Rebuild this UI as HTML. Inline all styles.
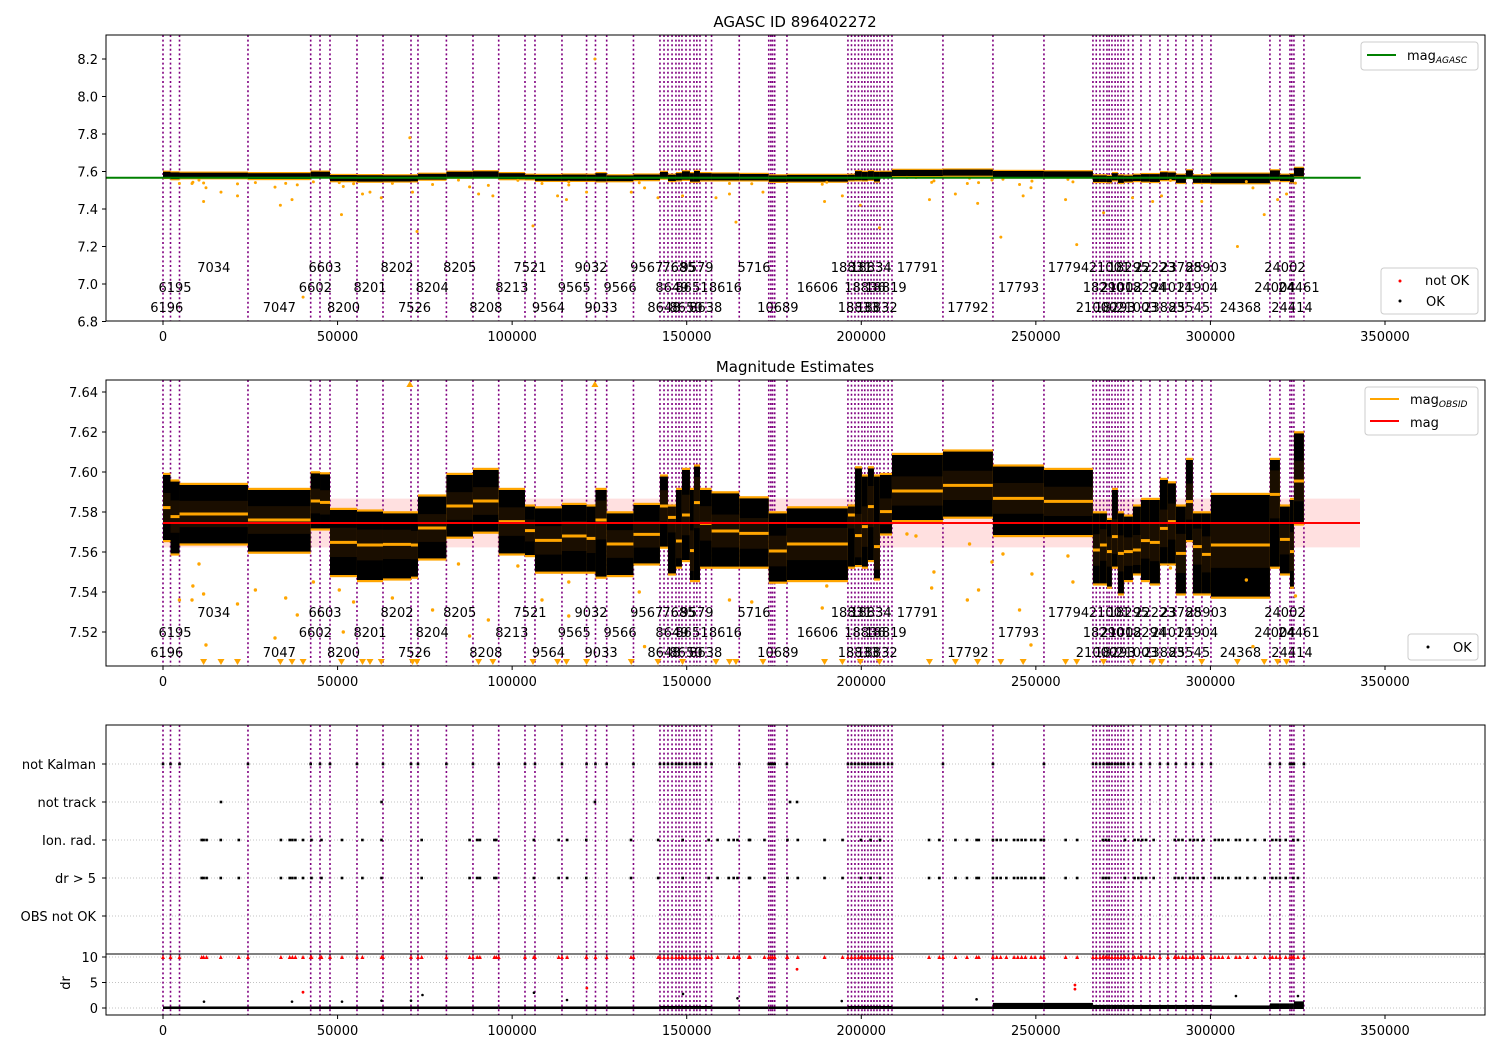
<!DOCTYPE html>
<html><head><meta charset="utf-8">
<style>
html,body{margin:0;padding:0;background:#fff;}
svg text{font-family:"DejaVu Sans","Liberation Sans",sans-serif;}
</style></head>
<body>
<svg id="chart" width="1500" height="1050" viewBox="0 0 1500 1050" xmlns="http://www.w3.org/2000/svg"></svg>
<script>
// ---- data (time in kiloseconds) ----
const segStart = [0,2.15,4.73,24.34,42.3,44.97,47.83,55.56,63.01,71.03,73.03,81.17,88.78,96.15,103.68,106.54,114.27,121.32,123.87,127.08,134.75,
142.34,144.63,146.92,148.64,150.93,152.08,153.8,157.12,165.05,173.5,178.71,196.18,198.19,200.19,201.91,203.63,205.35,
208.79,223.39,237.71,252.32,266.35,268.36,270.36,271.79,273.51,275.23,
277.81,280.1,282.68,285.54,287.83,290.12,292.99,294.99,297.57,300.15,317.05,319.91,322.78,323.92];
const lastEnd = 326.78;
const segTop = [7.5985,7.5952,7.5935,7.591,7.5993,7.5988,7.581,7.5802,7.5793,7.5793,7.5877,7.5985,7.601,7.591,7.5827,7.5818,7.5835,7.5827,7.591,7.5793,7.5835,
7.5977,7.5827,7.591,7.601,7.591,7.6027,7.591,7.5893,7.5868,7.5793,7.5818,
7.5827,7.6018,7.5977,7.6018,7.5977,7.5985,7.6085,7.6102,7.6027,7.601,
7.5793,7.5793,7.576,7.591,7.5793,7.5777,
7.5827,7.586,7.586,7.596,7.5943,7.5827,7.606,7.5793,7.5793,7.5885,7.606,7.5827,7.586,7.6193];
const segBot = [7.566,7.5593,7.5643,7.5602,7.5718,7.5718,7.5485,7.546,7.5468,7.5477,7.5568,7.5677,7.5702,7.5593,7.5585,7.5502,7.5502,7.5502,7.5477,7.5485,7.5543,
7.5627,7.5493,7.5527,7.556,7.546,7.546,7.5527,7.5527,7.5527,7.5452,7.546,
7.5527,7.5535,7.5527,7.556,7.5468,7.5693,7.576,7.5777,7.5685,7.5685,
7.5443,7.5443,7.5427,7.5527,7.5393,7.546,
7.5493,7.546,7.5443,7.5543,7.5543,7.5393,7.566,7.5393,7.5393,7.5377,7.5527,7.5493,7.5427,7.5743];
const segMean = [7.5822,7.5777,7.579,7.576,7.5855,7.5848,7.5648,7.5635,7.5638,7.5635,7.572,7.583,7.5855,7.5752,7.5707,7.5658,7.568,7.5668,7.576,7.564,7.5688,
7.583,7.5773,7.5655,7.5785,7.5607,7.5847,7.5743,7.5705,7.5693,7.5605,7.564,
7.5785,7.5682,7.5727,7.5827,7.5627,7.5802,7.5905,7.5933,7.5868,7.5853,
7.561,7.5635,7.5602,7.5677,7.5593,7.5602,
7.561,7.5657,7.5648,7.5718,7.5752,7.5593,7.5852,7.5627,7.5588,7.5635,7.5888,7.5663,7.5602,7.5955];
const obsids = ["6196","6195","7034","7047","6602","6603","8200","8201","8202","7526","8204","8205","8208","8213","7521","9564","9565","9032","9033","9566","9567",
"8648","8649","7685","8650","8651","9579","8638","8616","5716","10689","16606",
"18831","18833","18836","18834","18832","18819","17791","17792","17793","17794",
"21000","18290","21001","18293","21002","18295",
"21003","18294","22223","23883","24014","23788","25545","21904","25903","24368","24004","24002","24414","24461"];
const extraLines = [143.5,145.8,147.8,149.8,152.9,155.5,174.1,174.6,175.2,197.2,199.2,201.0,202.8,204.5,206.5,207.7,267.3,269.4,271.0,272.7,274.4,276.5,323.3,326.78];
const aggMag = 7.567;
const meanMag = 7.5745;
const meanStd = 0.0122;
const outT = [8.56,11.63,8.31,4.7,10.31,12.31,32.08,38.46,35.14,26.46,21.34,51.64,54.59,43.07,50.49,65.7,77.21,84.63,93.19,87.81,101.64,108.55,116.22,116.22,136.41,137.93,162.25,168.63,188.82,190.11,213.08,215.66,220.81,220.16,231.01,230.38,233.59,240.58,237.43,245.33,248.6,248.88,259.19,260.62,288.55,310.29,312.18,324.35,
123.7,70.7,
11.63,16.61,21.34,33.62,36.95,40.12,51.12,57.14,59.28,62.52,71.46,72.75,90.39,94.48,105.97,113.01,115.56,121.32,134.12,141.77,148.81,158.38,162.25,164.11,171.84,189.48,194.58,199.71,205.21,219.53,226.95,233.33,239.97,246.36,258.51,261.71,269.39,277.69,283.45,286.0,297.51,307.74,315.41,319.25,321.8];
const outMag = [7.543,7.539,7.536,7.536,7.554,7.5135,7.517,7.5285,7.537,7.541,7.534,7.520,7.535,7.545,7.541,7.537,7.531,7.554,7.526,7.518,7.553,7.536,7.528,7.545,7.540,7.5127,7.536,7.535,7.532,7.543,7.569,7.568,7.550,7.542,7.564,7.536,7.541,7.559,7.555,7.531,7.5135,7.549,7.558,7.545,7.552,7.546,7.5127,7.538,
8.2,7.78,
7.44,7.49,7.47,7.42,7.45,6.93,7.37,7.48,7.49,7.46,7.49,7.28,7.48,7.47,7.31,7.47,7.45,7.49,7.49,7.46,7.47,7.46,7.48,7.33,7.49,7.44,7.47,7.42,7.30,7.45,7.48,7.43,7.25,7.47,7.45,7.21,7.38,7.46,7.44,7.47,7.44,7.20,7.37,7.45,7.48];
const flagLabels = ["not Kalman","not track","Ion. rad.","dr > 5","OBS not OK"];
const notTrackT = [16.6,62.6,123.7,179.6,181.6];
const ionT = [11.08,11.63,12.49,16.55,21.71,33.77,36.29,37.06,37.92,40.1,42.53,45.39,51.27,57.11,62.58,74.09,87.81,89.99,90.76,94.91,95.46,106.23,113.33,115.74,121.23,134.04,141.82,148.84,156.29,158.84,162.02,163.45,164.54,167.83,168.12,172.27,178.86,181.81,189.48,194.64,199.91,202.66,205.38,219.41,222.36,226.97,230.27,233.02,233.67,237.71,238.8,239.92,241.55,243.76,244.84,245.93,247.02,248.68,249.77,251.43,252.29,258.53,261.83,269.19,270.05,270.93,275.51,278.27,279.35,280.47,281.56,283.74,289.78,290.87,291.99,294.16,295.25,296.34,298.0,301.29,302.38,303.47,305.13,307.31,308.42,310.6,312.78,315.53,317.73,318.82,319.91,321.57,323.75,325.07];
const dr5T = ionT.slice();
const drBandTop = [0.3,0.3,0.3,0.3,0.3,0.3,0.3,0.3,0.3,0.3,0.3,0.3,0.3,0.3,0.3,0.3,0.3,0.3,0.3,0.3,0.3,
0.4,0.4,0.4,0.4,0.4,0.4,0.4,0.3,0.3,0.3,0.3,0.4,0.4,0.4,0.4,0.4,0.4,0.3,0.3,1.0,1.0,
0.6,0.6,0.6,0.6,0.6,0.6,0.6,0.6,0.6,0.6,0.6,0.6,0.6,0.6,0.6,0.5,0.9,0.9,0.9,1.3];
const drHiT = [11.74,36.95,51.27,62.58,71.03,74.32,106.25,115.71,148.93,164.54,194.41,233.02,307.31,325.07];
const drHiV = [1.24,1.24,1.24,1.44,1.44,2.55,3.0,1.57,2.75,1.9,1.37,1.7,2.35,2.35];
const drRedT = [40.1,121.4,181.6,261.2,261.2];
const drRedV = [3.1,3.9,7.6,4.5,3.7];
const xTicks = [0,50,100,150,200,250,300,350];
const xTickLabels = ["0","50000","100000","150000","200000","250000","300000","350000"];
const y1Ticks = [6.8,7.0,7.2,7.4,7.6,7.8,8.0,8.2];
const y2Ticks = [7.52,7.54,7.56,7.58,7.60,7.62,7.64];
const drTicks = [0,5,10];

// ---- scales ----
const L=106,R=1485;
const X = t => 163 + t*3.4914;
const P1={top:35,bot:321}, P2={top:380,bot:666}, P3={top:725,mid:954,bot:1015};
const Y1 = m => 59 + (8.2-m)*187.5;
const Y2 = m => 392 + (7.64-m)*2000;
const YF = i => 764 + i*38;
const YD = d => 1008 - d*5.1;
const NS='http://www.w3.org/2000/svg';
const svg=document.getElementById('chart');
function mk(tag,attrs,parent){const e=document.createElementNS(NS,tag);for(const k in attrs)e.setAttribute(k,attrs[k]);(parent||svg).appendChild(e);return e;}
function txt(s,x,y,size,anchor,parent){const e=mk('text',{x:x,y:y,'font-size':size,'text-anchor':anchor||'middle',fill:'#000'},parent);e.textContent=s;return e;}

const defs=mk('defs',{});
[['c1',P1.top,P1.bot],['c2',P2.top,P2.bot],['c3',P3.top,P3.mid],['c4',P3.mid,P3.bot]].forEach(c=>{
  const cp=mk('clipPath',{id:c[0]},defs);mk('rect',{x:L,y:c[1],width:R-L,height:c[2]-c[1]},cp);
});
const segEnd = i => (i+1<segStart.length? segStart[i+1] : lastEnd);
const allLines = segStart.concat(extraLines);

function vlines(g,top,bot,name){
  allLines.forEach(t=>{
    const l=mk('line',{x1:X(t),x2:X(t),y1:top,y2:bot,stroke:'#800080','stroke-width':1.6,'stroke-dasharray':'2,2.6'},g);
    
    
  });
}
function xAxis(bot,name){
  const g=mk('g',{});
  
  
  xTicks.forEach((t,i)=>{
    mk('line',{x1:X(t),x2:X(t),y1:bot,y2:bot+4,stroke:'#000','stroke-width':1},g);
    const tl=txt(xTickLabels[i],X(t),bot+20,13,'middle',g);
    
    
  });
}
function frame(top,bot,name){
  const r=mk('rect',{x:L,y:top,width:R-L,height:bot-top,fill:'none',stroke:'#000','stroke-width':1});
  
  
}
function labels(g,Yrows){
  obsids.forEach((o,i)=>{
    const tc=(segStart[i]+segEnd(i))/2;
    const row=i%3;
    const t=txt(o,X(tc),Yrows[row],13,'middle',g);
    
    
  });
}
function bands(g,Y,pad,sub){
  segStart.forEach((s,i)=>{
    const x0=X(s),x1=X(segEnd(i));
    const yt=Y(segTop[i]),yb=Y(segBot[i]);
    const o=mk('rect',{x:x0,y:yt-pad,width:x1-x0,height:yb-yt+2*pad,fill:'#ffa500'},g);
    
    
    const b=mk('rect',{x:x0,y:yt,width:x1-x0,height:yb-yt,fill:'#000'},g);
    
    
    if(sub){
      const half=(segTop[i]-segBot[i])/2;
      const r1=mk('rect',{x:x0,y:Y(segMean[i]+half*0.45),width:x1-x0,height:Y(segMean[i]-half*0.45)-Y(segMean[i]+half*0.45),fill:'#ff8c00','fill-opacity':0.1},g);
      
      
      const m=mk('line',{x1:x0,x2:x1,y1:Y(segMean[i]),y2:Y(segMean[i]),stroke:'#ffa500','stroke-width':3},g);
      
      
    }
  });
}

// ---------- Panel 1 ----------
const t1=txt('AGASC ID 896402272',795,27,15,'middle');


const g1=mk('g',{'clip-path':'url(#c1)'});


vlines(g1,P1.top,P1.bot,'obsid-line');
bands(g1,Y1,1.2,false);
outT.forEach((t,i)=>{
  const c=mk('circle',{cx:X(t),cy:Y1(outMag[i]),r:1.5,fill:'#ffa500'},g1);
  
  
});
const ga=mk('line',{x1:L,x2:1360.7,y1:Y1(aggMag),y2:Y1(aggMag),stroke:'#008000','stroke-width':2},g1);


labels(g1,[312,292,272]);
frame(P1.top,P1.bot,'agasc-axes-frame');
y1Ticks.forEach(v=>{
  mk('line',{x1:L-4,x2:L,y1:Y1(v),y2:Y1(v),stroke:'#000'});
  const tl=txt(v.toFixed(1),L-8,Y1(v)+5,13,'end');
  
  
});
xAxis(P1.bot,'x-axis-top');
// legends
let lg=mk('g',{});


mk('rect',{x:1361,y:42,width:117,height:28,rx:3,fill:'#fff',stroke:'#ccc'},lg);
mk('line',{x1:1367,x2:1396,y1:55,y2:55,stroke:'#008000','stroke-width':2},lg);
let lt=mk('text',{x:1407,y:60,'font-size':13},lg);lt.innerHTML='mag<tspan font-size="9" font-style="italic" dy="3">AGASC</tspan>';
lg=mk('g',{});


mk('rect',{x:1381,y:268,width:97,height:46,rx:3,fill:'#fff',stroke:'#ccc'},lg);
mk('circle',{cx:1400,cy:281,r:1.5,fill:'#f00'},lg);
mk('circle',{cx:1400,cy:301,r:1.5,fill:'#000'},lg);
txt('not OK',1425,285,13,'start',lg);txt('OK',1426,306,13,'start',lg);

// ---------- Panel 2 ----------
const t2=txt('Magnitude Estimates',795,372,15,'middle');


const g2=mk('g',{'clip-path':'url(#c2)'});


const band=mk('rect',{x:X(0),y:Y2(meanMag+meanStd),width:1360-X(0),height:Y2(meanMag-meanStd)-Y2(meanMag+meanStd),fill:'#ff0000','fill-opacity':0.12},g2);


vlines(g2,P2.top,P2.bot,'obsid-line');
bands(g2,Y2,2.2,true);
outT.forEach((t,i)=>{
  const m=outMag[i];
  if(m<7.503){
    const x=X(t),y=662;
    const p=mk('path',{d:`M${x-3.5},${y-3} L${x+3.5},${y-3} L${x},${y+3} Z`,fill:'#ffa500'},g2);
    
    
  } else if(m>7.646){
    const x=X(t),y=384;
    const p=mk('path',{d:`M${x-3.5},${y+3} L${x+3.5},${y+3} L${x},${y-3} Z`,fill:'#ffa500'},g2);
    
    
  } else {
    const c=mk('circle',{cx:X(t),cy:Y2(m),r:1.7,fill:'#ffa500'},g2);
    
    
  }
});
const ml=mk('line',{x1:X(0),x2:1360,y1:Y2(meanMag),y2:Y2(meanMag),stroke:'#ff0000','stroke-width':2},g2);


labels(g2,[657,637,617]);
frame(P2.top,P2.bot,'estimates-axes-frame');
y2Ticks.forEach(v=>{
  mk('line',{x1:L-4,x2:L,y1:Y2(v),y2:Y2(v),stroke:'#000'});
  const tl=txt(v.toFixed(2),L-8,Y2(v)+5,13,'end');
  
  
});
xAxis(P2.bot,'x-axis-middle');
lg=mk('g',{});


mk('rect',{x:1365,y:387,width:113,height:48,rx:3,fill:'#fff',stroke:'#ccc'},lg);
mk('line',{x1:1370,x2:1399,y1:399,y2:399,stroke:'#ffa500','stroke-width':2},lg);
lt=mk('text',{x:1410,y:404,'font-size':13},lg);lt.innerHTML='mag<tspan font-size="9" font-style="italic" dy="3">OBSID</tspan>';
mk('line',{x1:1370,x2:1399,y1:421,y2:421,stroke:'#ff0000','stroke-width':2},lg);
txt('mag',1410,427,13,'start',lg);
lg=mk('g',{});


mk('rect',{x:1408,y:634,width:70,height:26,rx:3,fill:'#fff',stroke:'#ccc'},lg);
mk('circle',{cx:1428,cy:647,r:1.5,fill:'#000'},lg);
txt('OK',1453,652,13,'start',lg);

// ---------- Panel 3 (flags) ----------
const g3=mk('g',{'clip-path':'url(#c3)'});


flagLabels.forEach((f,i)=>{
  mk('line',{x1:L,x2:R,y1:YF(i),y2:YF(i),stroke:'#b0b0b0','stroke-width':0.8,'stroke-dasharray':'1,2'},g3);
  const tl=txt(f,L-10,YF(i)+5,13,'end');
  
  
  mk('line',{x1:L-4,x2:L,y1:YF(i),y2:YF(i),stroke:'#000'});
});
vlines(g3,P3.top,P3.mid,'obsid-line');
function flagDots(arr,row){
  arr.forEach(t=>{
    const c=mk('rect',{x:X(t)-1.3,y:YF(row)-1.3,width:2.6,height:2.6,fill:'#000'},g3);
    
    
  });
}
flagDots(allLines,0);
flagDots(notTrackT,1);
flagDots(ionT,2);
flagDots(dr5T,3);

// dr panel
const g4=mk('g',{'clip-path':'url(#c4)'});


drTicks.forEach(v=>{
  mk('line',{x1:L,x2:R,y1:YD(v),y2:YD(v),stroke:'#b0b0b0','stroke-width':0.8,'stroke-dasharray':'1,2'},g4);
  mk('line',{x1:L-4,x2:L,y1:YD(v),y2:YD(v),stroke:'#000'});
  const tl=txt(String(v),L-8,YD(v)+5,13,'end');
  
  
});
vlines(g4,P3.mid,P3.bot,'obsid-line');
segStart.forEach((s,i)=>{
  const r=mk('rect',{x:X(s),y:YD(drBandTop[i]),width:X(segEnd(i))-X(s),height:YD(-0.2)-YD(drBandTop[i]),fill:'#000'},g4);
  
  
});
drHiT.forEach((t,i)=>{
  const c=mk('circle',{cx:X(t),cy:YD(drHiV[i]),r:1.3,fill:'#000'},g4);
  
  
});
allLines.concat(ionT).forEach(t=>{
  const x=X(t),y=YD(10);
  const p=mk('path',{d:`M${x-2},${y+2} L${x+2},${y+2} L${x},${y-2} Z`,fill:'#ff0000'},g4);
  
  
});
drRedT.forEach((t,i)=>{
  const c=mk('circle',{cx:X(t),cy:YD(drRedV[i]),r:1.4,fill:'#ff0000'},g4);
  
  
});
frame(P3.top,P3.bot,'flags-axes-frame');
const sep=mk('line',{x1:L,x2:R,y1:P3.mid,y2:P3.mid,stroke:'#000','stroke-width':1});


const drt=mk('text',{x:0,y:0,'font-size':13,'text-anchor':'middle',transform:'translate(70,983) rotate(-90)'});
drt.textContent='dr';


xAxis(P3.bot,'x-axis-bottom');
</script>
</body></html>
